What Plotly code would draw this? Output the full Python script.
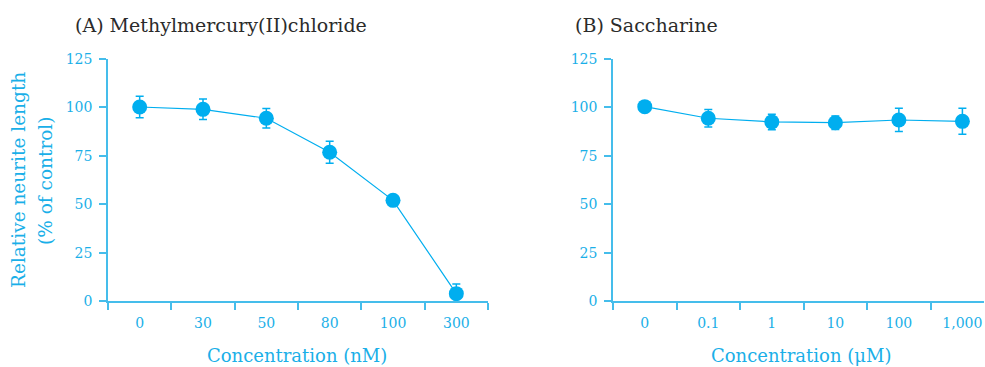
import plotly.graph_objects as go

# Data
cats_a = ["0", "30", "50", "80", "100", "300"]
vals_a = [100.2, 99.0, 94.4, 76.8, 52.0, 3.8]
err_a = [5.5, 5.3, 5.0, 5.7, 2.0, 5.0]

cats_b = ["0", "0.1", "1", "10", "100", "1,000"]
vals_b = [100.4, 94.4, 92.5, 92.1, 93.5, 92.8]
err_b = [1.5, 4.5, 4.0, 3.5, 6.0, 6.7]

y_ticks = [0, 25, 50, 75, 100, 125]

title_a = "(A) Methylmercury(II)chloride"
title_b = "(B) Saccharine"
x_title_a = "Concentration (nM)"
x_title_b = "Concentration (μM)"
y_title_1 = "Relative neurite length"
y_title_2 = "(% of control)"

W, H = 985, 367
BLUE = "#00AEEF"
AXC = "#45BDEB"
TXT = "#1AAFE8"
FONT = "DejaVu Serif"

fig = go.Figure()

for i, (cats, vals, errs) in enumerate([(cats_a, vals_a, err_a), (cats_b, vals_b, err_b)]):
    sfx = "" if i == 0 else "2"
    fig.add_trace(go.Scatter(
        x=cats, y=vals, mode="lines+markers",
        xaxis="x" + sfx, yaxis="y" + sfx,
        line=dict(color=BLUE, width=1.2),
        marker=dict(color=BLUE, size=15),
        error_y=dict(type="data", array=errs, visible=True, color=BLUE, thickness=1.5, width=4),
        cliponaxis=False, showlegend=False,
    ))

def px_x(p):
    return p / W

def px_y(p):
    return 1 - p / H

ydom = [px_y(301), px_y(59)]
common_x = dict(
    type="category", showline=True, linecolor=AXC, linewidth=1.5,
    ticks="outside", tickson="boundaries", ticklen=7, tickcolor=AXC, tickwidth=1.5,
    tickfont=dict(family=FONT, size=14, color=TXT), showgrid=False, zeroline=False,
    fixedrange=True, automargin=False, ticklabelstandoff=8,
)
common_y = dict(
    range=[0, 125], tickvals=y_ticks, showline=True, linecolor=AXC, linewidth=1.5,
    ticks="outside", ticklen=7, tickcolor=AXC, tickwidth=1.5,
    tickfont=dict(family=FONT, size=14, color=TXT), showgrid=False, zeroline=False,
    fixedrange=True, automargin=False, ticklabelstandoff=4,
)

fig.update_layout(
    width=W, height=H, margin=dict(l=0, r=0, t=0, b=0, autoexpand=False),
    paper_bgcolor="white", plot_bgcolor="white",
    xaxis=dict(common_x, domain=[px_x(108), px_x(488)], range=[-0.5, 5.5], anchor="y"),
    yaxis=dict(common_y, domain=ydom, anchor="x"),
    xaxis2=dict(common_x, domain=[px_x(613), px_x(984)], range=[-0.5, 5.34], anchor="y2"),
    yaxis2=dict(common_y, domain=ydom, anchor="x2"),
)

ann = [
    dict(text=title_a, x=px_x(73), y=px_y(25), xanchor="left", yanchor="middle",
         font=dict(family=FONT, size=19, color="#2b2b2b")),
    dict(text=title_b, x=px_x(573), y=px_y(25), xanchor="left", yanchor="middle",
         font=dict(family=FONT, size=19, color="#2b2b2b")),
    dict(text=x_title_a, x=px_x(297), y=px_y(355), xanchor="center", yanchor="middle",
         font=dict(family=FONT, size=18, color=TXT)),
    dict(text=x_title_b, x=px_x(801), y=px_y(355), xanchor="center", yanchor="middle",
         font=dict(family=FONT, size=18, color=TXT)),
    dict(text=y_title_1, x=px_x(18), y=px_y(180), xanchor="center", yanchor="middle",
         textangle=-90, font=dict(family=FONT, size=18.5, color=TXT)),
    dict(text=y_title_2, x=px_x(45), y=px_y(181), xanchor="center", yanchor="middle",
         textangle=-90, font=dict(family=FONT, size=18.5, color=TXT)),
]
for a in ann:
    a.update(xref="paper", yref="paper", showarrow=False)
fig.update_layout(annotations=ann)

fig.write_html("out.html", config={"displayModeBar": False})
